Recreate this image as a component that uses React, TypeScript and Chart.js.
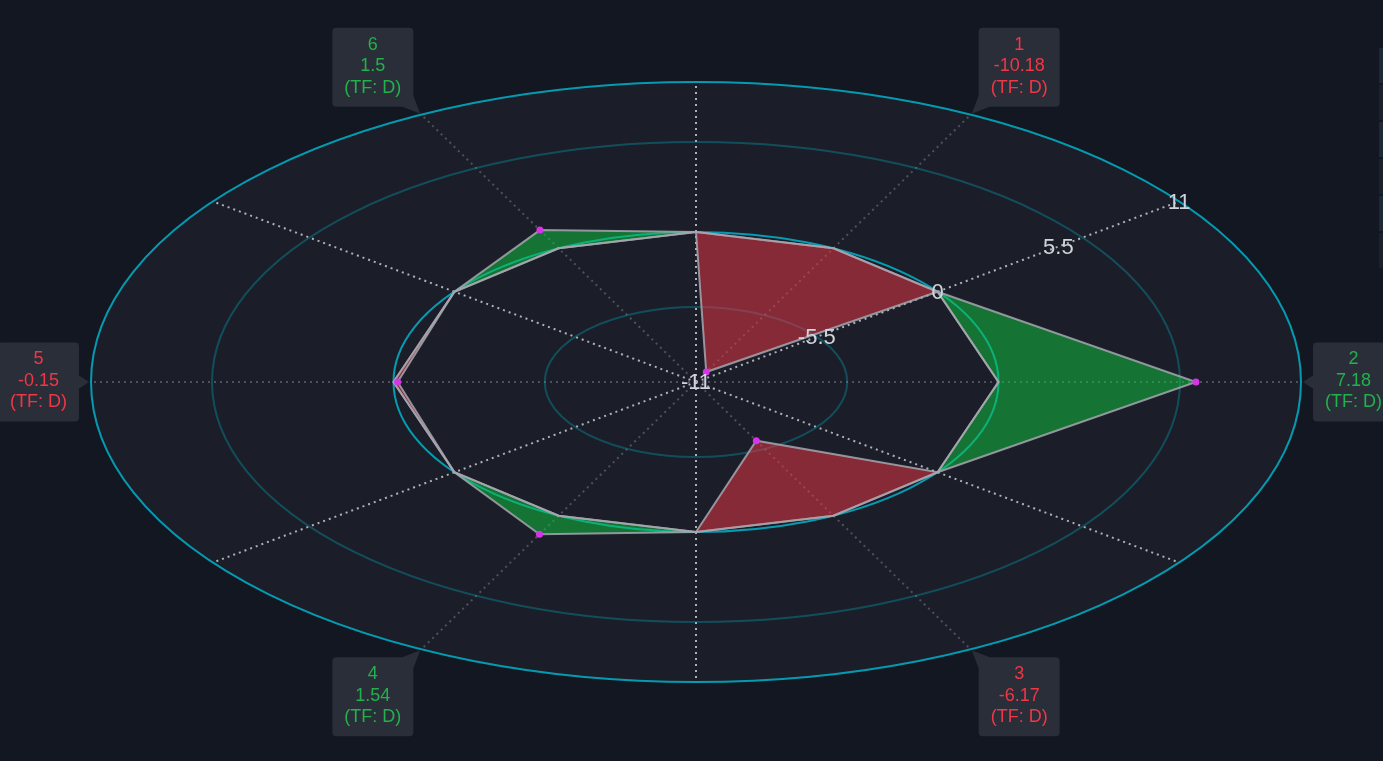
import React, { useEffect, useRef } from 'react';
import { Chart, registerables, RadialLinearScale } from 'chart.js';

// ---------------- data ----------------
const CATEGORIES = ['1', '2', '3', '4', '5', '6'];
const VALUES = [-10.18, 7.18, -6.17, 1.54, -0.15, 1.5];
const TIMEFRAMES = ['D', 'D', 'D', 'D', 'D', 'D'];
const BASELINE = 0;
const AXIS_MIN = -11;
const AXIS_MAX = 11;
const TICK_STEP = 5.5;
const RING_VALUES = [-5.5, 0, 6.6, 11];

// ---------------- layout / style ----------------
// spokes, clockwise from the top (degrees, in the stretched ellipse space)
const SPOKE_ANGLES = [0, 27, 53, 90, 127, 153, 180, 207, 233, 270, 307, 333];
const TICK_SPOKE = 2;
const CENTER_DX = 4.5;
const CENTER_Y = 382;
const RADIUS_Y = 300;
const STRETCH_X = 605 / 300;

const BG = '#131722';
const PLOT_BG = '#1b1e28';
const RING_COLORS = ['rgba(0,188,212,0.30)', 'rgba(0,188,212,0.80)', 'rgba(0,188,212,0.30)', 'rgba(0,188,212,0.80)'];
const RING_WIDTHS = [2, 2, 2, 2];
const SPOKE_MAJOR = 'rgba(209,212,220,0.80)';
const SPOKE_MINOR = 'rgba(120,123,134,0.55)';
const LINE_GRAY = 'rgba(165,167,175,0.85)';
const POS_FILL = 'rgba(16,200,63,0.50)';
const NEG_FILL = 'rgba(242,54,69,0.50)';
const POINT_COLOR = '#d633ea';
const POS_TEXT = '#22b14c';
const NEG_TEXT = '#f23645';
const TICK_COLOR = '#d1d4dc';
const TICK_FONT = '22px "Liberation Sans", Arial, sans-serif';
const BOX_FONT = '18px "Liberation Sans", Arial, sans-serif';
const BOX_BG = '#2a2e39';
const BOX_W = 81;
const BOX_H = 79;

// derived series (one spacer spoke between categories, held at the baseline)
const SPOKE_LABELS = CATEGORIES.flatMap((c) => ['', c]);
const ZERO_SERIES = CATEGORIES.flatMap(() => [BASELINE, BASELINE]);
const POS_SERIES = VALUES.flatMap((v) => [BASELINE, Math.max(v, BASELINE)]);
const NEG_SERIES = VALUES.flatMap((v) => [BASELINE, Math.min(v, BASELINE)]);
const POINT_SERIES = VALUES.flatMap((v) => [null, v]);

const toRad = (d: number) => (d * Math.PI) / 180;

class EllipticRadialScale extends RadialLinearScale {
  static id = 'ellipticRadial';

  fit() {
    const chart = (this as any).chart;
    (this as any).xCenter = chart.width / 2 + CENTER_DX;
    (this as any).yCenter = CENTER_Y;
    (this as any).drawingArea = RADIUS_Y;
  }

  getIndexAngle(index: number) {
    return toRad(SPOKE_ANGLES[index % SPOKE_ANGLES.length]);
  }

  getPointPosition(index: number, distance: number, additionalAngle = 0) {
    const angle = this.getIndexAngle(index) - Math.PI / 2 + additionalAngle;
    const self = this as any;
    return {
      x: self.xCenter + Math.cos(angle) * distance * STRETCH_X,
      y: self.yCenter + Math.sin(angle) * distance,
      angle,
    };
  }

  drawBackground() {
    const self = this as any;
    const ctx = this.ctx;
    const d = this.getDistanceFromCenterForValue(this.max);
    ctx.save();
    ctx.fillStyle = PLOT_BG;
    ctx.beginPath();
    ctx.ellipse(self.xCenter, self.yCenter, d * STRETCH_X, d, 0, 0, Math.PI * 2);
    ctx.fill();
    ctx.restore();
  }

  drawGrid() {
    const self = this as any;
    const ctx = this.ctx;
    const outer = this.getDistanceFromCenterForValue(this.max);
    const labels = this.getLabels();
    ctx.save();
    // angle lines
    ctx.lineWidth = 2;
    ctx.setLineDash([2, 4]);
    for (let i = 0; i < labels.length; i++) {
      const p = this.getPointPosition(i, outer);
      ctx.strokeStyle = labels[i] === '' ? SPOKE_MAJOR : SPOKE_MINOR;
      ctx.beginPath();
      ctx.moveTo(self.xCenter, self.yCenter);
      ctx.lineTo(p.x, p.y);
      ctx.stroke();
    }
    ctx.setLineDash([]);
    // rings
    RING_VALUES.forEach((v, j) => {
      const d = this.getDistanceFromCenterForValue(v);
      ctx.strokeStyle = RING_COLORS[j];
      ctx.lineWidth = RING_WIDTHS[j];
      ctx.beginPath();
      ctx.ellipse(self.xCenter, self.yCenter, d * STRETCH_X, d, 0, 0, Math.PI * 2);
      ctx.stroke();
    });
    ctx.restore();
  }

  drawBorder() {}

  drawLabels() {
    const ctx = this.ctx;
    const outer = this.getDistanceFromCenterForValue(this.max);
    ctx.save();
    // tick labels along one spacer spoke
    ctx.font = TICK_FONT;
    ctx.fillStyle = TICK_COLOR;
    ctx.textAlign = 'center';
    ctx.textBaseline = 'middle';
    for (const t of this.ticks) {
      const p = this.getPointPosition(TICK_SPOKE, this.getDistanceFromCenterForValue(t.value));
      ctx.fillText(String(t.label), p.x, p.y + 1);
    }
    // category call-out boxes
    const labels = this.getLabels();
    labels.forEach((lab: any, i: number) => {
      if (lab === '') return;
      const k = CATEGORIES.indexOf(lab);
      const p = this.getPointPosition(i, outer);
      const cx = Math.cos(p.angle);
      const cy = Math.sin(p.angle);
      const sx = Math.abs(cx) < 0.15 ? 0 : Math.sign(cx);
      const sy = Math.abs(cy) < 0.15 ? 0 : Math.sign(cy);
      let left: number;
      let top: number;
      const tail: number[][] = [];
      if (sy === 0) {
        top = p.y - BOX_H / 2;
        left = sx > 0 ? p.x + 12 : p.x - 12 - BOX_W;
        const ex = sx > 0 ? left + 2 : left + BOX_W - 2;
        tail.push([p.x + sx * 2, p.y], [ex, p.y - 8], [ex, p.y + 8]);
      } else {
        left = sx > 0 ? p.x + 8 : p.x - 8 - BOX_W;
        top = sy < 0 ? p.y - 8 - BOX_H : p.y + 8;
        const kx = sx > 0 ? left : left + BOX_W;
        const ky = sy < 0 ? top + BOX_H : top;
        tail.push([p.x + sx, p.y + sy], [kx, ky + (sy < 0 ? -11 : 11)], [kx + (sx > 0 ? 11 : -11), ky]);
      }
      ctx.fillStyle = BOX_BG;
      ctx.beginPath();
      (ctx as any).roundRect(left, top, BOX_W, BOX_H, 4);
      ctx.fill();
      ctx.beginPath();
      ctx.moveTo(tail[0][0], tail[0][1]);
      ctx.lineTo(tail[1][0], tail[1][1]);
      ctx.lineTo(tail[2][0], tail[2][1]);
      ctx.closePath();
      ctx.fill();

      const v = VALUES[k];
      ctx.fillStyle = v >= 0 ? POS_TEXT : NEG_TEXT;
      ctx.font = BOX_FONT;
      ctx.textAlign = 'center';
      ctx.textBaseline = 'middle';
      const lines = [CATEGORIES[k], String(v), `(TF: ${TIMEFRAMES[k]})`];
      lines.forEach((line, j) => ctx.fillText(line, left + BOX_W / 2, top + 17 + j * 21.5));
    });
    ctx.restore();
  }
}

Chart.register(...registerables, EllipticRadialScale);

const SIDE_ROWS = ['#1e2935', '#1c202b', '#1e2935', '#1c202b', '#1e2935', '#1c202b'];

export default function App() {
  const ref = useRef<HTMLCanvasElement>(null);

  useEffect(() => {
    document.body.style.margin = '0';
    document.body.style.background = BG;
    const chart = new Chart(ref.current as HTMLCanvasElement, {
      type: 'radar',
      data: {
        labels: SPOKE_LABELS,
        datasets: [
          {
            label: 'zero',
            data: ZERO_SERIES,
            borderColor: LINE_GRAY,
            borderWidth: 2,
            pointRadius: 0,
            fill: false,
            order: 1,
          },
          {
            label: 'positive',
            data: POS_SERIES,
            borderColor: LINE_GRAY,
            borderWidth: 2,
            backgroundColor: POS_FILL,
            pointRadius: 0,
            fill: 0,
            order: 3,
          },
          {
            label: 'negative',
            data: NEG_SERIES,
            borderColor: LINE_GRAY,
            borderWidth: 2,
            backgroundColor: NEG_FILL,
            pointRadius: 0,
            fill: 0,
            order: 2,
          },
          {
            label: 'values',
            data: POINT_SERIES as any,
            showLine: false,
            fill: false,
            pointRadius: 3.5,
            pointBorderWidth: 0,
            pointBackgroundColor: POINT_COLOR,
            order: 0,
          },
        ],
      },
      options: {
        animation: false,
        responsive: true,
        maintainAspectRatio: false,
        events: [],
        layout: { padding: 0 },
        elements: { line: { tension: 0 } },
        plugins: { legend: { display: false }, tooltip: { enabled: false } },
        scales: {
          r: {
            type: 'ellipticRadial' as any,
            min: AXIS_MIN,
            max: AXIS_MAX,
            ticks: { stepSize: TICK_STEP, z: 1, callback: (v: any) => String(v) },
            pointLabels: { display: false },
          } as any,
        },
      },
    });
    return () => chart.destroy();
  }, []);

  return (
    <div style={{ position: 'relative', width: 1383, height: 761, background: BG, overflow: 'hidden' }}>
      <canvas ref={ref} />
      {SIDE_ROWS.map((c, i) => (
        <div
          key={i}
          style={{ position: 'absolute', left: 1379, top: 48 + i * 37, width: 10, height: 35, background: c }}
        />
      ))}
    </div>
  );
}
